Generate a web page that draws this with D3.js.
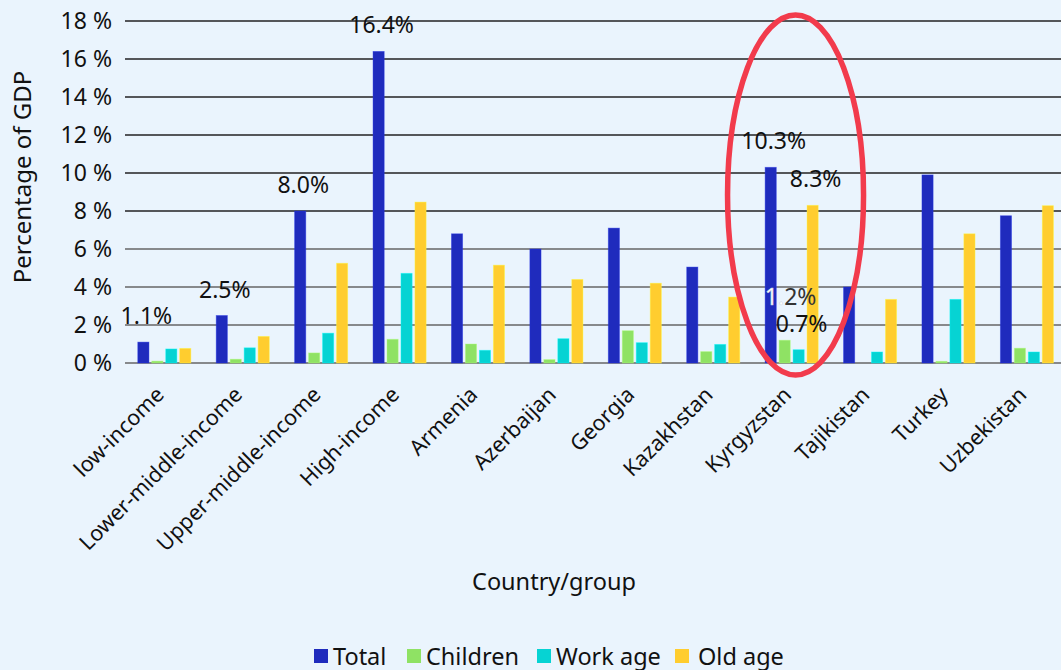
<!DOCTYPE html>
<html lang="en">
<head>
  <meta charset="utf-8">
  <title>Social protection spending, percentage of GDP</title>
  <script src="https://cdn.jsdelivr.net/npm/d3@7"></script>
  <style>
    html, body { margin: 0; padding: 0; background: #eaf4fd; }
    body { font-family: "Noto Sans", "Open Sans", sans-serif; }
  </style>
</head>
<body>
<div id="chart"></div>
<script>

const w = 1061;
const h = 670;

// data
const categories = ["low-income", "Lower-middle-income", "Upper-middle-income", "High-income",
  "Armenia", "Azerbaijan", "Georgia", "Kazakhstan", "Kyrgyzstan", "Tajikistan", "Turkey", "Uzbekistan"];
const seriesNames = ["Total", "Children", "Work age", "Old age"];
const total    = [1.1, 2.5, 8.0, 16.4, 6.8, 6.0, 7.1, 5.05, 10.3, 4.0, 9.9, 7.75];
const children = [0.1, 0.2, 0.53, 1.25, 1.0, 0.18, 1.7, 0.6, 1.2, 0.0, 0.09, 0.78];
const workAge  = [0.74, 0.8, 1.57, 4.72, 0.67, 1.28, 1.07, 0.98, 0.7, 0.58, 3.35, 0.58];
const oldAge   = [0.77, 1.4, 5.25, 8.47, 5.15, 4.4, 4.2, 3.47, 8.3, 3.35, 6.8, 8.28];
const yTicks   = [0, 2, 4, 6, 8, 10, 12, 14, 16, 18];

// value labels: [category, series, text]
const valueLabels = [
  ["low-income", "Total", "1.1%"],
  ["Lower-middle-income", "Total", "2.5%"],
  ["Upper-middle-income", "Total", "8.0%"],
  ["High-income", "Total", "16.4%"],
  ["Kyrgyzstan", "Total", "10.3%"],
  ["Kyrgyzstan", "Old age", "8.3%"],
  ["Kyrgyzstan", "Children", "1.2%"],
  ["Kyrgyzstan", "Work age", "0.7%"]
];

const colors = ["#1f2bbd", "#8fe264", "#06d3d3", "#ffcd2f"];
const seriesValues = [total, children, workAge, oldAge];

const rows = categories.map((c, i) => ({
  category: c,
  values: seriesNames.map((s, j) => ({ series: s, value: seriesValues[j][i], color: colors[j] }))
}));

const svg = d3.select("#chart").append("svg")
    .attr("width", w)
    .attr("height", h)
    .style("display", "block");

svg.append("rect").attr("width", w).attr("height", h).attr("fill", "#eaf4fd");

const x0 = d3.scaleBand().domain(categories).range([125, 1066]).padding(0);
const x1 = d3.scaleBand().domain(seriesNames)
    .range([x0.bandwidth() * 0.163, x0.bandwidth() * 0.84])
    .paddingInner(0.2);
const y = d3.scaleLinear().domain([0, 18]).range([363, 21]);

// grid + y axis
const yAxis = svg.append("g")
    .attr("transform", "translate(125,0)")
    .call(d3.axisLeft(y).tickValues(yTicks).tickFormat(d => d + " %").tickSize(0).tickPadding(13));
yAxis.select(".domain").remove();
yAxis.selectAll("text")
    .attr("font-family", "Noto Sans, sans-serif")
    .attr("font-size", 23)
    .attr("fill", "#111");

svg.append("g").selectAll("line")
    .data(yTicks)
    .join("line")
    .attr("x1", 125)
    .attr("x2", w)
    .attr("y1", d => y(d))
    .attr("y2", d => y(d))
    .attr("stroke", d => d >= 8 ? "#222" : "#666")
    .attr("stroke-width", 1.6);

// bars
const groups = svg.append("g").selectAll("g")
    .data(rows)
    .join("g")
    .attr("transform", d => `translate(${x0(d.category)},0)`);

groups.selectAll("rect")
    .data(d => d.values)
    .join("rect")
    .attr("x", d => x1(d.series))
    .attr("width", x1.bandwidth())
    .attr("y", d => y(d.value))
    .attr("height", d => y(0) - y(d.value))
    .attr("fill", d => d.color)
    .attr("stroke", d => d3.color(d.color).brighter(0.6))
    .attr("stroke-opacity", 0.5)
    .attr("stroke-width", 0.8);

// x labels
svg.append("g").selectAll("text")
    .data(categories)
    .join("text")
    .attr("transform", d => `translate(${x0(d) + x0.bandwidth() / 2 + 1},396) rotate(-45)`)
    .attr("text-anchor", "end")
    .attr("font-size", 21.5)
    .attr("fill", "#111")
    .text(d => d);

// value labels
const labelShift = { "1.2%": [6, -35] };
const lookup = (c, s) => seriesValues[seriesNames.indexOf(s)][categories.indexOf(c)];
svg.append("g").selectAll("text")
    .data(valueLabels)
    .join("text")
    .attr("x", d => x0(d[0]) + x1(d[1]) + x1.bandwidth() / 2 + (labelShift[d[2]] ? labelShift[d[2]][0] : 3))
    .attr("y", d => y(lookup(d[0], d[1])) + (labelShift[d[2]] ? labelShift[d[2]][1] : -18))
    .attr("text-anchor", "middle")
    .attr("font-size", 23)
    .attr("fill", "#111")
    .each(function(d) {
      const t = d3.select(this);
      if (d[2] === "1.2%") {
        t.append("tspan").attr("fill", "#fff").attr("stroke", "#c8d0da").attr("stroke-width", 0.5).text("1.");
        t.append("tspan").attr("fill", "#333").text("2%");
      } else {
        t.text(d[2]);
      }
    });

// axis titles
svg.append("text")
    .attr("transform", "translate(31,177) rotate(-90)")
    .attr("text-anchor", "middle")
    .attr("font-size", 24)
    .attr("fill", "#111")
    .text("Percentage of GDP");

svg.append("text")
    .attr("x", 554)
    .attr("y", 590)
    .attr("text-anchor", "middle")
    .attr("font-size", 23.5)
    .attr("fill", "#111")
    .text("Country/group");

// highlight ellipse
svg.append("ellipse")
    .attr("cx", x0("Kyrgyzstan") + x0.bandwidth() / 2 + 4)
    .attr("cy", 195)
    .attr("rx", 68)
    .attr("ry", 180)
    .attr("fill", "none")
    .attr("stroke", "#f23b4c")
    .attr("stroke-width", 5.5);

// legend
const legendX = [314, 407, 537, 675];
const legend = svg.append("g").selectAll("g")
    .data(seriesNames)
    .join("g")
    .attr("transform", (d, i) => `translate(${legendX[i]},649)`);
legend.append("rect")
    .attr("width", 14)
    .attr("height", 14)
    .attr("fill", (d, i) => colors[i]);
legend.append("text")
    .attr("x", (d, i) => i === 3 ? 23 : 19)
    .attr("y", 15.5)
    .attr("font-size", 23.5)
    .attr("fill", "#111")
    .text(d => d);

</script>
</body>
</html>
